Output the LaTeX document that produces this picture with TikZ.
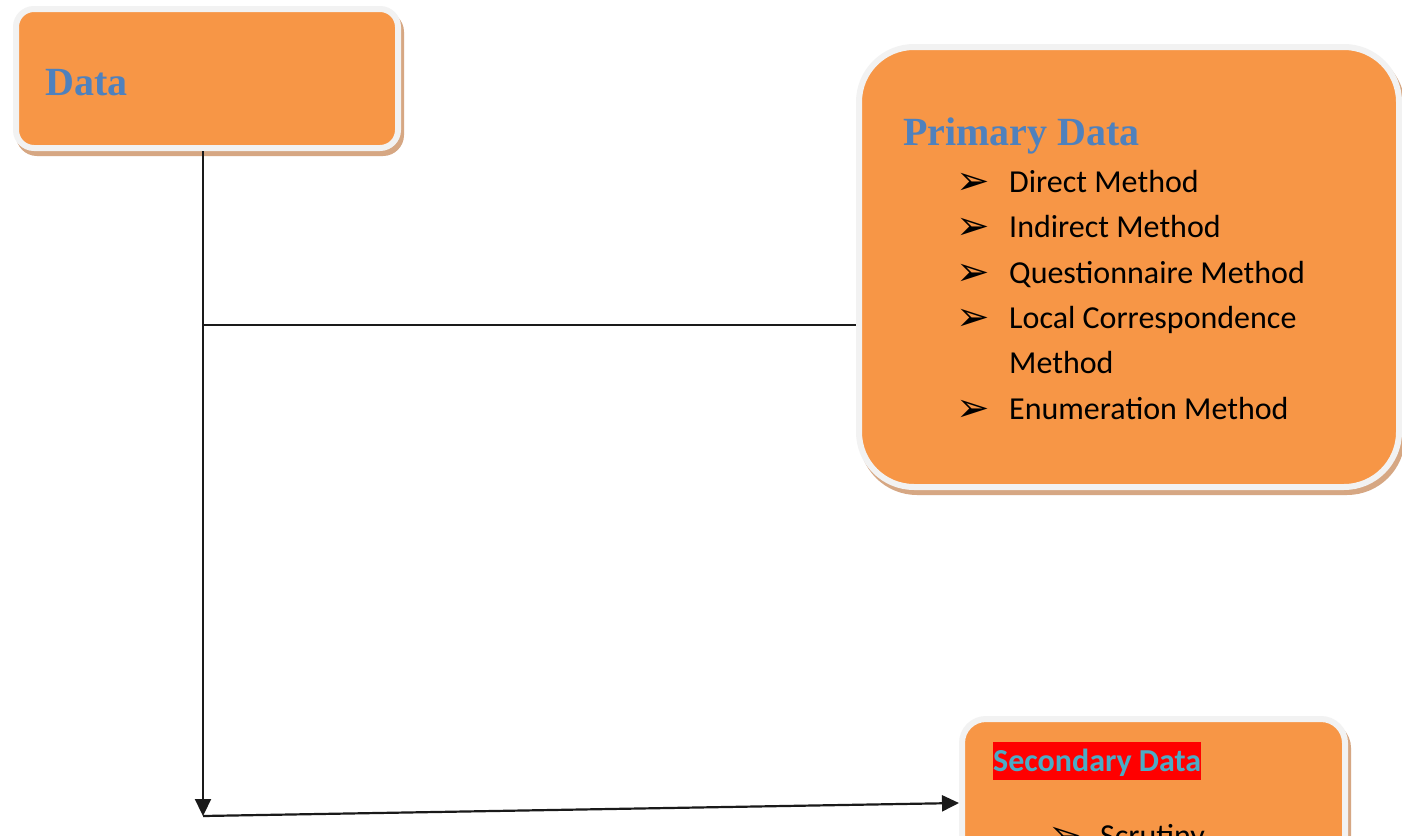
\documentclass[tikz,border=0pt]{standalone}
\usepackage{fontspec}
\setmainfont{Carlito}
\newfontfamily\headfont{Liberation Serif}
\newfontfamily\symfont{DejaVu Sans}
\usetikzlibrary{arrows.meta,shadows}
\definecolor{boxorange}{HTML}{F79646}
\definecolor{rim}{HTML}{F2F2F2}
\definecolor{shade}{HTML}{D6A783}
\definecolor{titleblue}{HTML}{4F81BD}
\definecolor{cyanblue}{HTML}{4BACC6}
\definecolor{linecol}{HTML}{1A1A1A}
\tikzset{
  box/.style={rectangle, fill=boxorange, draw=rim, line width=6pt, inner sep=0pt,
    drop shadow={shadow xshift=3pt, shadow yshift=-5pt, fill=shade, draw=shade, line width=6pt, opacity=1}},
  conn/.style={draw=linecol, line width=2.2pt},
  tip/.style={-{Triangle[length=17pt,width=16pt]}},
  headtxt/.style={anchor=base west, inner sep=0pt, text=titleblue, font=\headfont\bfseries\fontsize{40}{40}\selectfont},
  itemtxt/.style={anchor=base west, inner sep=0pt, text=black, font=\fontsize{32}{32}\selectfont},
  bullettxt/.style={anchor=base west, inner sep=0pt, text=black, font=\symfont\fontsize{40}{40}\selectfont},
}
\begin{document}
\begin{tikzpicture}[x=1pt,y=-1pt]
\clip (0,0) rectangle (1402,835);
\fill[white] (0,0) rectangle (1402,835);
% boxes
\node[box, rounded corners=18pt, minimum width=382pt, minimum height=139pt] (data) at (207,78.5) {};
\node[box, rounded corners=55pt, minimum width=540pt, minimum height=440pt] (primary) at (1129,267) {};
\node[box, rounded corners=24pt, minimum width=383pt, minimum height=168pt] (secondary) at (1153.5,803) {};
% connectors
\coordinate (corner) at (203,816);
\coordinate (junction) at (203,325);
\draw[conn, tip] (data.south -| corner) -- (corner);
\draw[conn] (junction) -- (junction -| primary.west);
\draw[conn, tip] (corner) -- (secondary.west);
% texts
\node[headtxt] (datatxt) at (45,95) {Data};
\node[headtxt] (primtxt) at (903,145) {Primary Data};
\node[bullettxt] (b1) at (956,194) {➢};
\node[itemtxt] (i1) at (1009,192) {Direct Method};
\node[bullettxt] (b2) at (956,239) {➢};
\node[itemtxt] (i2) at (1009,237) {Indirect Method};
\node[bullettxt] (b3) at (956,285) {➢};
\node[itemtxt] (i3) at (1009,283) {Questionnaire Method};
\node[bullettxt] (b4) at (956,330) {➢};
\node[itemtxt] (i4) at (1009,328) {Local Correspondence};
\node[itemtxt] (i4b) at (1009,373) {Method};
\node[bullettxt] (b5) at (956,421) {➢};
\node[itemtxt] (i5) at (1009,419) {Enumeration Method};
\node[anchor=base west, inner xsep=0pt, inner ysep=0pt, text height=29pt, text depth=9pt, fill=red, text=cyanblue, font=\bfseries\fontsize{32}{32}\selectfont] (sectxt) at (993,771) {Secondary Data};
\node[bullettxt] (b6) at (1048,848) {➢};
\node[itemtxt] (i6) at (1100,846) {Scrutiny};
\end{tikzpicture}
\end{document}
